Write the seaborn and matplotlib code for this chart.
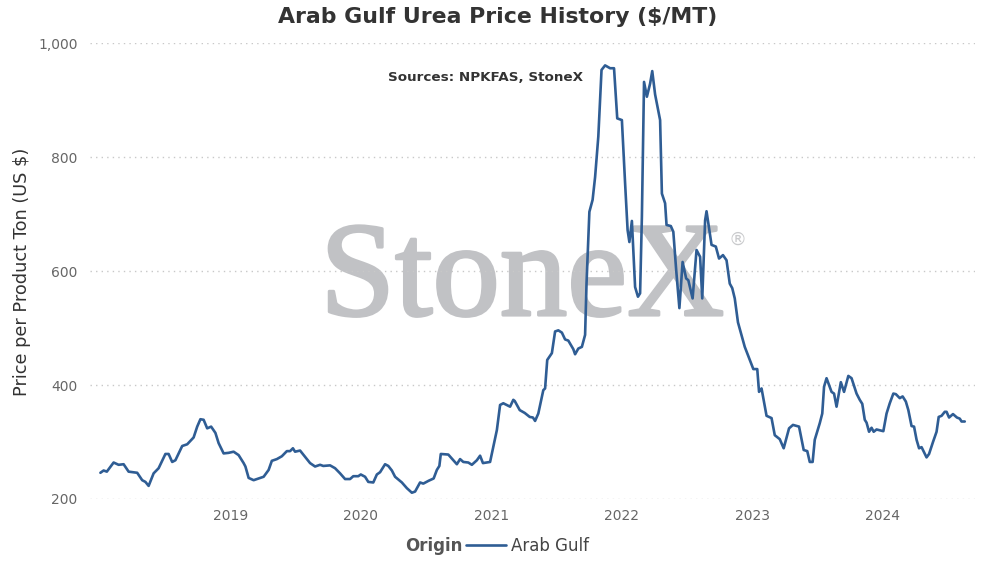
import matplotlib
matplotlib.use("Agg")
import matplotlib.pyplot as plt
import matplotlib.dates as mdates
import matplotlib.patheffects as pe
from matplotlib.ticker import FuncFormatter
import seaborn as sns
import pandas as pd

#   Precios semanales (US $ por tonelada)
dates = [
    "2018-01-02", "2018-01-11", "2018-01-20", "2018-02-08", "2018-02-22", "2018-03-08",
    "2018-03-22", "2018-04-15", "2018-04-29", "2018-05-08", "2018-05-17", "2018-05-31",
    "2018-06-14", "2018-07-03", "2018-07-12", "2018-07-22", "2018-07-31", "2018-08-19",
    "2018-09-02", "2018-09-20", "2018-09-30", "2018-10-09", "2018-10-18", "2018-10-28",
    "2018-11-08", "2018-11-20", "2018-11-29", "2018-12-13", "2018-12-27",
    "2019-01-10", "2019-01-24", "2019-02-07", "2019-02-12", "2019-02-21", "2019-03-07",
    "2019-03-26", "2019-04-04", "2019-04-18", "2019-04-27", "2019-05-11", "2019-05-25",
    "2019-06-08", "2019-06-17", "2019-06-25", "2019-07-01", "2019-07-15", "2019-07-29",
    "2019-08-12", "2019-08-26", "2019-09-09", "2019-09-18", "2019-10-07", "2019-10-21",
    "2019-11-04", "2019-11-18", "2019-12-02", "2019-12-11", "2019-12-25",
    "2020-01-01", "2020-01-13", "2020-01-22", "2020-02-05", "2020-02-15", "2020-02-24",
    "2020-03-09", "2020-03-18", "2020-03-28", "2020-04-06", "2020-04-25", "2020-05-09",
    "2020-05-23", "2020-06-01", "2020-06-15", "2020-06-24", "2020-07-09", "2020-07-23",
    "2020-08-01", "2020-08-08", "2020-08-12", "2020-09-02", "2020-09-12", "2020-09-26",
    "2020-10-05", "2020-10-14", "2020-10-28", "2020-11-07", "2020-11-21", "2020-11-30",
    "2020-12-08", "2020-12-19", "2020-12-28",
    "2021-01-16", "2021-01-25", "2021-02-03", "2021-02-22", "2021-03-03", "2021-03-07",
    "2021-03-21", "2021-04-04", "2021-04-18", "2021-04-27", "2021-05-03", "2021-05-12",
    "2021-05-26", "2021-05-31", "2021-06-06", "2021-06-19", "2021-06-28", "2021-07-07",
    "2021-07-17", "2021-07-26", "2021-08-04", "2021-08-18", "2021-08-23", "2021-09-01",
    "2021-09-11", "2021-09-20", "2021-09-24", "2021-10-02", "2021-10-11", "2021-10-18",
    "2021-10-27", "2021-11-05", "2021-11-15", "2021-11-29", "2021-12-10", "2021-12-19",
    "2022-01-01", "2022-01-10", "2022-01-17", "2022-01-22", "2022-01-29", "2022-02-02",
    "2022-02-07", "2022-02-15", "2022-02-21", "2022-02-26", "2022-03-04", "2022-03-12",
    "2022-03-21", "2022-03-27", "2022-04-04", "2022-04-18", "2022-04-23", "2022-05-02",
    "2022-05-06", "2022-05-18", "2022-05-25", "2022-06-02", "2022-06-11", "2022-06-20",
    "2022-06-30", "2022-07-06", "2022-07-18", "2022-07-29", "2022-08-08", "2022-08-14",
    "2022-08-22", "2022-08-26", "2022-09-09", "2022-09-21", "2022-09-30", "2022-10-11",
    "2022-10-21", "2022-10-30", "2022-11-06", "2022-11-13", "2022-11-22", "2022-12-11",
    "2023-01-04", "2023-01-15", "2023-01-20", "2023-01-27", "2023-02-10", "2023-02-24",
    "2023-03-05", "2023-03-19", "2023-03-30", "2023-04-14", "2023-04-25", "2023-05-12",
    "2023-05-25", "2023-06-04", "2023-06-11", "2023-06-19", "2023-06-25", "2023-07-09",
    "2023-07-16", "2023-07-21", "2023-07-28", "2023-08-11", "2023-08-18", "2023-08-25",
    "2023-09-06", "2023-09-15", "2023-09-27", "2023-10-06", "2023-10-20", "2023-10-29",
    "2023-11-05", "2023-11-12", "2023-11-17", "2023-11-24", "2023-12-01", "2023-12-07",
    "2023-12-15",
    "2024-01-03", "2024-01-12", "2024-01-21", "2024-01-31", "2024-02-07", "2024-02-18",
    "2024-02-26", "2024-03-06", "2024-03-13", "2024-03-22", "2024-03-29", "2024-04-05",
    "2024-04-12", "2024-04-19", "2024-05-03", "2024-05-10", "2024-05-21", "2024-05-31",
    "2024-06-06", "2024-06-14", "2024-06-23", "2024-06-28", "2024-07-05", "2024-07-16",
    "2024-07-27", "2024-08-04", "2024-08-09", "2024-08-18",
]
prices = [
    246, 250, 248, 264, 260, 261,
    248, 246, 233, 230, 223, 245,
    254, 279, 279, 265, 268, 293,
    296, 308, 327, 340, 339, 324,
    327, 316, 298, 280, 281,
    283, 277, 263, 257, 237, 233,
    237, 239, 251, 267, 270, 275,
    284, 284, 289, 283, 285, 274,
    263, 257, 260, 258, 259, 254,
    245, 235, 235, 240, 240,
    243, 239, 230, 229, 243, 247,
    261, 258, 250, 239, 229, 219,
    211, 213, 229, 227, 232, 236,
    251, 258, 279, 278, 271, 261,
    270, 265, 264, 260, 268, 276,
    263, 264, 265,
    321, 365, 368, 362, 374, 372,
    356, 351, 344, 343, 337, 350,
    391, 394, 444, 456, 494, 496,
    492, 480, 478, 463, 454, 464,
    467, 488, 578, 704, 725, 765,
    836, 953, 961, 956, 956, 868,
    865, 754, 672, 651, 688, 637,
    572, 555, 561, 695, 932, 906,
    929, 951, 910, 865, 736, 719,
    681, 679, 669, 602, 535, 616,
    587, 584, 552, 637, 625, 552,
    689, 705, 646, 643, 622, 628,
    619, 578, 570, 552, 510, 467,
    428, 428, 388, 394, 346, 342,
    312, 305, 289, 324, 330, 327,
    286, 284, 265, 265, 304, 333,
    350, 397, 412, 388, 385, 362,
    405, 388, 416, 412, 385, 374,
    367, 339, 334, 318, 325, 318,
    322,
    319, 350, 368, 385, 384, 377,
    380, 371, 356, 328, 327, 304,
    289, 291, 273, 279, 300, 318,
    344, 346, 353, 353, 343, 349,
    343, 341, 336, 336,
]
origin = "Arab Gulf"
year_ticks = ["2019-01-01", "2020-01-01", "2021-01-01", "2022-01-01", "2023-01-01", "2024-01-01"]

df = pd.DataFrame({"Date": pd.to_datetime(dates), "Price": prices})

sns.set_style("white")
plt.rcParams["font.family"] = ["DejaVu Sans"]

fig = plt.figure(figsize=(9.83, 5.68), dpi=100)
ax = fig.add_axes([0.0916, 0.1215, 0.9004, 0.8025])

#   Marca de agua
wm_color = "#c1c2c5"
ax.text(0.26, 0.4035, "StoneX", transform=ax.transAxes, ha="left", va="baseline",
        fontsize=97, family="Liberation Serif", color=wm_color, zorder=0,
        path_effects=[pe.Stroke(linewidth=2.2, foreground=wm_color), pe.Normal()])
ax.text(0.732, 0.568, "\u00ae", transform=ax.transAxes, ha="center", va="center",
        fontsize=13, color="#c9cacc", zorder=0)

sns.lineplot(data=df, x="Date", y="Price", ax=ax, color="#2f5d94",
             linewidth=1.9, label=origin, zorder=3)

ax.set_ylim(200, 1000)
ax.set_yticks([200, 400, 600, 800, 1000])
ax.yaxis.set_major_formatter(FuncFormatter(lambda v, p: f"{int(v):,}"))
ax.set_xlim(pd.Timestamp("2017-12-04"), pd.Timestamp("2024-09-16"))
ax.set_xticks(pd.to_datetime(year_ticks))
ax.xaxis.set_major_formatter(mdates.DateFormatter("%Y"))

ax.grid(axis="y", color="#c8c8c8", linestyle=(0, (1, 3)), linewidth=1)
ax.grid(axis="x", visible=False)
for s in ax.spines.values():
    s.set_visible(False)
ax.tick_params(axis="both", length=0, labelsize=10, labelcolor="#666666")
ax.tick_params(axis="y", pad=9)
ax.tick_params(axis="x", pad=7)
ax.set_xlabel("")
ax.set_ylabel("")

fig.text(0.0224, 0.521, "Price per Product Ton (US $)", rotation=90, ha="center",
         va="center", fontsize=12.8, color="#333333")
fig.suptitle("Arab Gulf Urea Price History ($/MT)", x=0.506, y=0.970, va="center",
             fontsize=15.8, fontweight="bold", color="#333333")
ax.text(0.447, 0.925, "Sources: NPKFAS, StoneX", transform=ax.transAxes, ha="center",
        va="center", fontsize=9.7, fontweight="bold", color="#333333")

#   Leyenda abajo
handles, labels = ax.get_legend_handles_labels()
ax.get_legend().remove()
fig.text(0.471, 0.039, "Origin", ha="right", va="center", fontsize=12,
         fontweight="bold", color="#555555")
fig.legend(handles, labels, loc="center left", bbox_to_anchor=(0.474, 0.039),
           frameon=False, fontsize=12, handlelength=2.4, handletextpad=0.3,
           borderpad=0, borderaxespad=0, labelcolor="#444444")

fig.savefig("out.png", dpi=100)
